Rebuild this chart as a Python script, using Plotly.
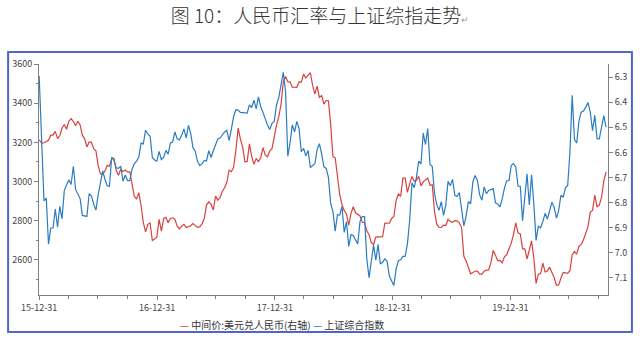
import pandas as pd
import plotly.graph_objects as go

# ---------------- data (weekly) ----------------
title_text = "图 10：人民币汇率与上证综指走势"
name_cny = "中间价:美元兑人民币(右轴)"
name_sse = "上证综合指数"

year_ticks = ["2015-12-31", "2016-12-31", "2017-12-31", "2018-12-31", "2019-12-31"]
year_labels = ["15-12-31", "16-12-31", "17-12-31", "18-12-31", "19-12-31"]

# first value dated 2015-12-31, then Fridays
sse_2016 = [3539, 3186, 2901, 2916, 2680, 2763, 2763, 2860, 2767, 2874, 2810, 2955, 2979,
            3009, 2985, 3078, 2960, 2938, 2913, 2827, 2826, 2822, 2938, 2927, 2885, 2854,
            2932, 2989, 3054, 3012, 2979, 2976, 3125, 3108, 3070, 3067, 3078, 3002, 3033,
            3005, 3005, 3063, 3091, 3104, 3125, 3196, 3192, 3262, 3243, 3232, 3122, 3110, 3104]
sse_2017 = [3154, 3112, 3123, 3159, 3140, 3197, 3202, 3253, 3218, 3212, 3237, 3269, 3223,
            3287, 3246, 3173, 3155, 3103, 3083, 3090, 3108, 3105, 3158, 3123, 3157, 3192,
            3217, 3222, 3238, 3253, 3262, 3209, 3268, 3332, 3367, 3365, 3353, 3352, 3349,
            3349, 3391, 3378, 3416, 3371, 3432, 3382, 3353, 3317, 3289, 3266, 3297, 3307]
sse_2018 = [3391, 3428, 3487, 3558, 3462, 3129, 3199, 3289, 3254, 3307, 3269, 3152, 3169,
            3131, 3159, 3071, 3082, 3091, 3163, 3193, 3141, 3075, 3067, 3021, 2889, 2847,
            2747, 2831, 2829, 2873, 2740, 2795, 2669, 2729, 2725, 2702, 2682, 2797, 2821,
            2821, 2606, 2510, 2598, 2676, 2599, 2679, 2579, 2588, 2605, 2593, 2516, 2494]
sse_2019 = [2470, 2554, 2596, 2601, 2618, 2618, 2682, 2804, 2994, 2969, 3021, 3104, 3090,
            3247, 3189, 3270, 3086, 3078, 2939, 2882, 2853, 2898, 2827, 2881, 3001, 2979,
            3011, 2930, 2924, 2944, 2868, 2774, 2824, 2898, 2886, 2999, 3031, 3006, 2932,
            2905, 2973, 2938, 2955, 2958, 2964, 2891, 2885, 2871, 2912, 2968, 3004, 3005]
sse_2020 = [3083, 3092, 3075, 2976, 2976, 2800, 2917, 3039, 2880, 3034, 2887, 2700, 2772,
            2764, 2796, 2838, 2809, 2860, 2895, 2868, 2813, 2852, 2930, 2919, 2968, 2980,
            3152, 3440, 3214, 3197, 3310, 3354, 3360, 3380, 3403, 3355, 3260, 3338, 3219,
            3218, 3272, 3336, 3278]

cny_2016 = [6.5500, 6.5636, 6.5616, 6.5557, 6.5516, 6.5314, 6.5314, 6.5165, 6.5452, 6.5338,
            6.5030, 6.4891, 6.5079, 6.4762, 6.4655, 6.4762, 6.4942, 6.4762, 6.4909, 6.5315,
            6.5456, 6.5784, 6.5593, 6.5593, 6.5856, 6.5935, 6.6528, 6.6857, 6.6886, 6.6745,
            6.6511, 6.6556, 6.6242, 6.6239, 6.6721, 6.6908, 6.6676, 6.6761, 6.6701, 6.6778,
            6.6778, 6.7258, 6.7744, 6.7858, 6.7604, 6.8115, 6.8796, 6.9168, 6.8865, 6.8808,
            6.9508, 6.9453, 6.9370]
cny_2017 = [6.8668, 6.9141, 6.8632, 6.8588, 6.8798, 6.8629, 6.8605, 6.8665, 6.8940, 6.9042,
            6.8939, 6.8866, 6.8993, 6.8949, 6.8920, 6.8833, 6.8931, 6.8987, 6.8968, 6.8850,
            6.8633, 6.8090, 6.7976, 6.8061, 6.8295, 6.7744, 6.7901, 6.7800, 6.7558, 6.7410,
            6.7191, 6.6709, 6.6770, 6.6597, 6.5909, 6.5032, 6.5465, 6.5790, 6.6369, 6.6369,
            6.5662, 6.6153, 6.6473, 6.6247, 6.6360, 6.6229, 6.5808, 6.6102, 6.6172, 6.5942,
            6.5852, 6.5342]
cny_2018 = [6.4915, 6.4574, 6.4104, 6.3194, 6.2982, 6.3194, 6.3194, 6.3406, 6.3406, 6.3409,
            6.3189, 6.3204, 6.2881, 6.3032, 6.2926, 6.2829, 6.3334, 6.3670, 6.3359, 6.3810,
            6.3733, 6.4078, 6.3934, 6.3943, 6.4893, 6.6166, 6.6215, 6.6854, 6.7671, 6.8074,
            6.8322, 6.8455, 6.8894, 6.8427, 6.8165, 6.8407, 6.8480, 6.8531, 6.8792, 6.8792,
            6.9119, 6.9275, 6.9600, 6.9670, 6.9377, 6.9376, 6.9347, 6.9357, 6.8817, 6.8808,
            6.8822, 6.8632]
cny_2019 = [6.8554, 6.7909, 6.7655, 6.7752, 6.7025, 6.7025, 6.7592, 6.7255, 6.6957, 6.7146,
            6.7107, 6.6957, 6.7335, 6.7174, 6.7113, 6.7023, 6.7311, 6.7286, 6.8365, 6.8859,
            6.8992, 6.8992, 6.8896, 6.8903, 6.8668, 6.8747, 6.8785, 6.8717, 6.8724, 6.8808,
            6.8996, 7.0136, 7.0326, 7.0570, 7.0835, 7.0781, 7.0733, 7.0727, 7.0850, 7.0850,
            7.0733, 7.0690, 7.0680, 7.0391, 6.9907, 7.0100, 7.0308, 7.0298, 7.0399, 7.0149,
            7.0080, 6.9841]
cny_2020 = [6.9614, 6.9263, 6.8808, 6.9201, 6.9249, 6.9843, 6.9843, 7.0246, 6.9900, 6.9523,
            7.0202, 7.1220, 7.0850, 7.0826, 7.0414, 7.0759, 7.0725, 7.0571, 7.0782, 7.0983,
            7.1293, 7.1277, 7.1012, 7.0779, 7.0800, 7.0820, 7.0703, 7.0076, 6.9946, 7.0054,
            6.9737, 6.9666, 6.9477, 6.9240, 6.8957, 6.8376, 6.8311, 6.7702, 6.8154, 6.8101,
            6.7796, 6.7132, 6.6781]

sse = sse_2016 + sse_2017 + sse_2018 + sse_2019 + sse_2020
cny = cny_2016 + cny_2017 + cny_2018 + cny_2019 + cny_2020
dates = [pd.Timestamp("2015-12-31")] + list(pd.date_range("2016-01-08", periods=len(sse) - 1, freq="W-FRI"))

# ---------------- figure ----------------
RED = "#d9423c"
BLUE = "#2a7cc2"
AXC = "#808080"
FONT = "Noto Sans CJK SC"

fig = go.Figure()
fig.add_trace(go.Scatter(x=dates, y=cny, name=name_cny, mode="lines",
                         line=dict(color=RED, width=1.2), yaxis="y"))
fig.add_trace(go.Scatter(x=dates, y=sse, name=name_sse, mode="lines",
                         line=dict(color=BLUE, width=1.2), yaxis="y2"))

fig.update_layout(
    width=640, height=339,
    margin=dict(l=37, r=32, t=64, b=44),
    paper_bgcolor="white", plot_bgcolor="white",
    showlegend=False,
    font=dict(family=FONT, size=9, color="#444"),
    title=dict(text=title_text + '<span style="font-size:9px;color:#999">↵</span>',
               x=0.5, xref="container", xanchor="center",
               y=0.952, yref="container", yanchor="middle",
               font=dict(family=FONT, size=19, color="#333", weight=300)),
    xaxis=dict(type="date", range=["2015-12-30 12:00", "2020-10-29"],
               tickvals=year_ticks, ticktext=year_labels,
               ticks="outside", ticklen=4, tickcolor=AXC,
               showline=True, linecolor=AXC, linewidth=1,
               showgrid=False, zeroline=False,
               minor=dict(ticks="outside", ticklen=3, tickcolor=AXC,
                          tick0="2015-12-31", dtick="M3", showgrid=False),
               tickfont=dict(size=9, color="#444")),
    yaxis=dict(side="right", range=[7.168, 6.248],
               tick0=6.3, dtick=0.1, tickformat=".1f",
               ticks="outside", ticklen=4, tickcolor=AXC,
               showline=True, linecolor=AXC, linewidth=1,
               showgrid=False, zeroline=False,
               tickfont=dict(size=9, color="#444")),
    yaxis2=dict(side="left", overlaying="y", range=[2421, 3600],
                tick0=2600, dtick=200,
                ticks="outside", ticklen=4, tickcolor=AXC,
                showline=True, linecolor=AXC, linewidth=1,
                showgrid=False, zeroline=False,
                minor=dict(ticks="outside", ticklen=2, tickcolor=AXC, dtick=100, showgrid=False),
                tickfont=dict(size=9, color="#444")),
)

# legend drawn as text
legend_text = (f'<span style="color:{RED}">—</span> {name_cny} '
               f'<span style="color:{BLUE}">—</span> {name_sse}')
fig.add_annotation(text=legend_text, xref="paper", yref="paper",
                   x=(281 - 37) / 571, y=(295 - 324) / 231,
                   xanchor="center", yanchor="middle", showarrow=False,
                   font=dict(family=FONT, size=10, color="#333"))

# outer blue frame
fig.add_shape(type="rect", xref="paper", yref="paper",
              x0=(6 - 37) / 571, x1=(632 - 37) / 571,
              y0=(295 - 332) / 231, y1=(295 - 52) / 231,
              line=dict(color="#5064d0", width=2), fillcolor="rgba(0,0,0,0)", layer="below")

fig.write_html("out.html")
